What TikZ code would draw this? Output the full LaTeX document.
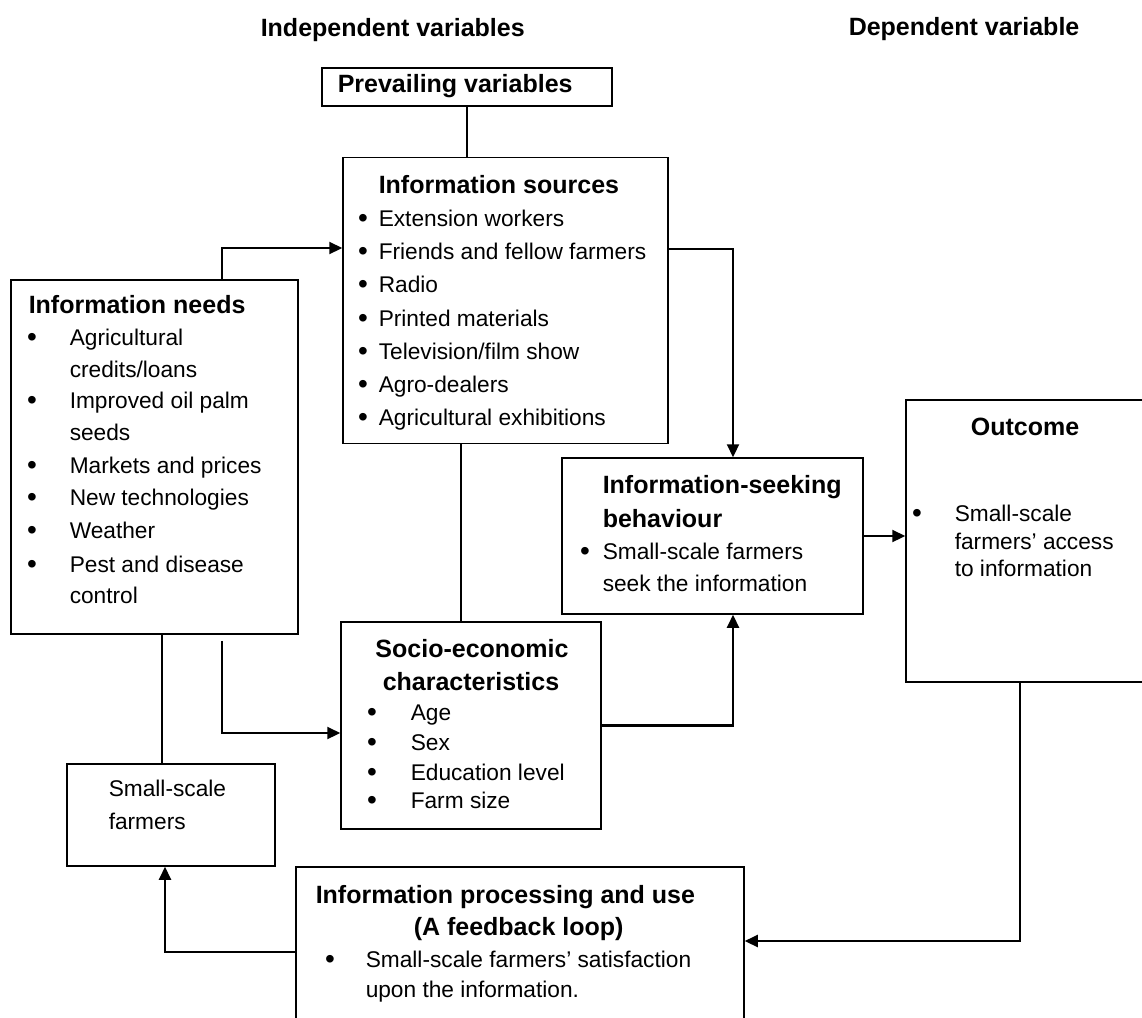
\documentclass[tikz,border=0pt]{standalone}
\usepackage{fontspec}
\setmainfont{Liberation Sans}
\usetikzlibrary{arrows.meta}

\begin{document}
\begin{tikzpicture}[x=1pt,y=-1pt,line width=1.5pt,
  box/.style={draw,line width=1.5pt,inner sep=0pt},
  arr/.style={line width=2.2pt,-{Triangle[length=13pt,width=12pt]}},
  lnk/.style={line width=2pt},
  ttl/.style={anchor=base west,inner sep=0pt,font=\bfseries\fontsize{25}{30}\selectfont},
  txt/.style={anchor=base west,inner sep=0pt,font=\fontsize{22.7}{27}\selectfont},
  dot/.style={anchor=base,inner sep=0pt,font=\fontsize{28}{30}\selectfont}]
\path[use as bounding box] (0,0) rectangle (1142,1017);
% headers
\node[ttl] (hind) at (260,36) {Independent variables};
\node[ttl] (hdep) at (848,35) {Dependent variable};
% boxes
\node[box,minimum width=290pt,minimum height=38pt] (prev) at (467,87) {};
\node[box,minimum width=325pt,minimum height=286pt] (src) at (505.5,300.5) {};
\node[box,minimum width=287pt,minimum height=354pt] (needs) at (154.5,457) {};
\node[box,minimum width=301pt,minimum height=156pt] (seek) at (712.5,536) {};
\node[box,minimum width=244pt,minimum height=282pt] (out) at (1028,541) {};
\node[box,minimum width=260pt,minimum height=207pt] (soc) at (471,725.5) {};
\node[box,minimum width=208pt,minimum height=102pt] (farm) at (171,815) {};
\node[box,minimum width=448pt,minimum height=170pt] (proc) at (520,952) {};
% prevailing variables
\node[ttl] (prevT) at (337,92) {Prevailing variables};
% information sources
\node[ttl] (srcT) at (378,193) {Information sources};
\node[dot] (srcD1) at (363,227) {•};
\node[txt] (src1) at (378,226) {Extension workers};
\node[dot] (srcD2) at (363,260) {•};
\node[txt] (src2) at (378,259) {Friends and fellow farmers};
\node[dot] (srcD3) at (363,293) {•};
\node[txt] (src3) at (378,292) {Radio};
\node[dot] (srcD4) at (363,327) {•};
\node[txt] (src4) at (378,326) {Printed materials};
\node[dot] (srcD5) at (363,360) {•};
\node[txt] (src5) at (378,359) {Television/film show};
\node[dot] (srcD6) at (363,393) {•};
\node[txt] (src6) at (378,392) {Agro-dealers};
\node[dot] (srcD7) at (363,426) {•};
\node[txt] (src7) at (378,425) {Agricultural exhibitions};
% information needs
\node[ttl] (needsT) at (28,313) {Information needs};
\node[dot] (needsD1) at (32,346) {•};
\node[txt] (needs1) at (69,345) {Agricultural};
\node[txt] (needs1b) at (69,377) {credits/loans};
\node[dot] (needsD2) at (32,409) {•};
\node[txt] (needs2) at (69,408) {Improved oil palm};
\node[txt] (needs2b) at (69,440) {seeds};
\node[dot] (needsD3) at (32,474) {•};
\node[txt] (needs3) at (69,473) {Markets and prices};
\node[dot] (needsD4) at (32,506) {•};
\node[txt] (needs4) at (69,505) {New technologies};
\node[dot] (needsD5) at (32,539) {•};
\node[txt] (needs5) at (69,538) {Weather};
\node[dot] (needsD6) at (32,573) {•};
\node[txt] (needs6) at (69,572) {Pest and disease};
\node[txt] (needs6b) at (69,603) {control};
% information-seeking behaviour
\node[ttl] (seekT) at (602,493) {Information-seeking};
\node[ttl] (seekTb) at (602,527) {behaviour};
\node[dot] (seekD1) at (585,560) {•};
\node[txt] (seek1) at (602,559) {Small-scale farmers};
\node[txt] (seek1b) at (602,591) {seek the information};
% outcome
\node[ttl,anchor=base] (outT) at (1025,435) {Outcome};
\node[dot] (outD1) at (917,522) {•};
\node[txt] (out1) at (954,521) {Small-scale};
\node[txt] (out1b) at (954,549) {farmers’ access};
\node[txt] (out1c) at (954,576) {to information};
% socio-economic characteristics
\node[ttl,anchor=base] (socT) at (472,657) {Socio-economic};
\node[ttl,anchor=base] (socTb) at (471,690) {characteristics};
\node[dot] (socD1) at (372,721) {•};
\node[txt] (soc1) at (410,720) {Age};
\node[dot] (socD2) at (372,751) {•};
\node[txt] (soc2) at (410,750) {Sex};
\node[dot] (socD3) at (372,781) {•};
\node[txt] (soc3) at (410,780) {Education level};
\node[dot] (socD4) at (372,809) {•};
\node[txt] (soc4) at (410,808) {Farm size};
% small-scale farmers
\node[txt] (farmT) at (108,796) {Small-scale};
\node[txt] (farmTb) at (108,829) {farmers};
% information processing and use
\node[ttl] (procT) at (315,903) {Information processing and use};
\node[ttl] (procTb) at (413,935) {(A feedback loop)};
\node[dot] (procD1) at (330,968) {•};
\node[txt] (proc1) at (365,967) {Small-scale farmers’ satisfaction};
\node[txt] (proc1b) at (365,997) {upon the information.};
% connectors
\draw[lnk] (prev.south) -- (prev.south |- src.north);
\draw[arr] ([xshift=67.5pt]needs.north) |- ([yshift=52.5pt]src.west);
\draw[arr] ([yshift=51.5pt]src.east) -| ([xshift=20.5pt]seek.north);
\draw[arr] (seek.east) -- (seek.east -| out.west);
\path (soc.north) ++(-10,0) coordinate (socup);
\draw[lnk] (socup) -- (socup |- src.south);
\draw[arr] (soc.east) -| ([xshift=20.5pt]seek.south);
\path (farm.north) ++(-9,0) coordinate (farmup);
\draw[lnk] (farmup) -- (farmup |- needs.south);
\draw[arr] ([xshift=67.5pt,yshift=-6pt]needs.south) |- ([yshift=-7.5pt]soc.west);
\draw[arr] (proc.west) -| ([xshift=-6pt]farm.south);
\draw[arr] ([xshift=-8pt]out.south) |- ([yshift=11pt]proc.east);
\end{tikzpicture}
\end{document}
